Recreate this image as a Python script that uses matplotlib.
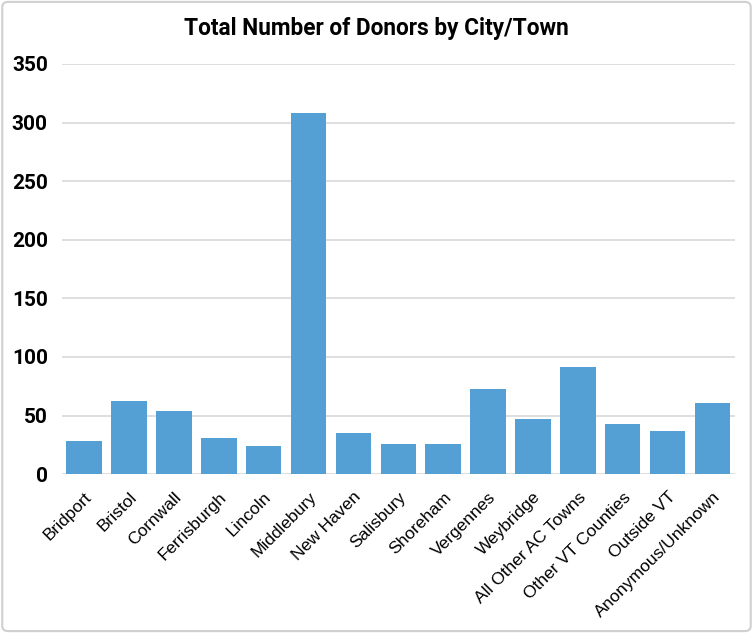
import matplotlib.pyplot as plt
from matplotlib.patches import FancyBboxPatch

towns = ["Bridport", "Bristol", "Cornwall", "Ferrisburgh", "Lincoln", "Middlebury",
         "New Haven", "Salisbury", "Shoreham", "Vergennes", "Weybridge",
         "All Other AC Towns", "Other VT Counties", "Outside VT", "Anonymous/Unknown"]
donors = [28, 62, 54, 31, 24, 308, 35, 26, 26, 73, 47, 91, 43, 37, 61]
yticks = [0, 50, 100, 150, 200, 250, 300, 350]

plt.rcParams['font.family'] = ['Roboto', 'DejaVu Sans']

fig = plt.figure(figsize=(7.53, 6.33), dpi=100)
fig.patches.append(FancyBboxPatch((0.003, 0.003), 0.994, 0.994,
                                  boxstyle="round,pad=0,rounding_size=0.008",
                                  transform=fig.transFigure, fill=False,
                                  edgecolor="#d0d0d0", linewidth=1.5))
ax = fig.add_axes([0.082, 0.251, 0.894, 0.648])

x = range(len(towns))
ax.bar(x, donors, width=0.79, color="#549fd4", zorder=3)
ax.set_xlim(-0.5, len(towns) - 0.5)
ax.set_ylim(0, 350)
ax.set_yticks(yticks)
ax.set_yticklabels([str(v) for v in yticks], fontsize=15, fontweight='bold')
ax.set_xticks(list(x))
ax.set_xticklabels(towns, rotation=45, ha='right', rotation_mode='anchor',
                   fontsize=12.5, family=['Liberation Sans', 'DejaVu Sans'])
ax.tick_params(axis='y', length=0, pad=10)
ax.tick_params(axis='x', length=0, pad=11)
ax.grid(axis='y', color="#d9d9d9", linewidth=1.2, zorder=0)
for s in ax.spines.values():
    s.set_visible(False)

fig.text(0.5, 0.955, "Total Number of Donors by City/Town", ha='center', va='center',
         fontsize=16.3, fontweight='bold')

fig.savefig("out.png", dpi=100)
